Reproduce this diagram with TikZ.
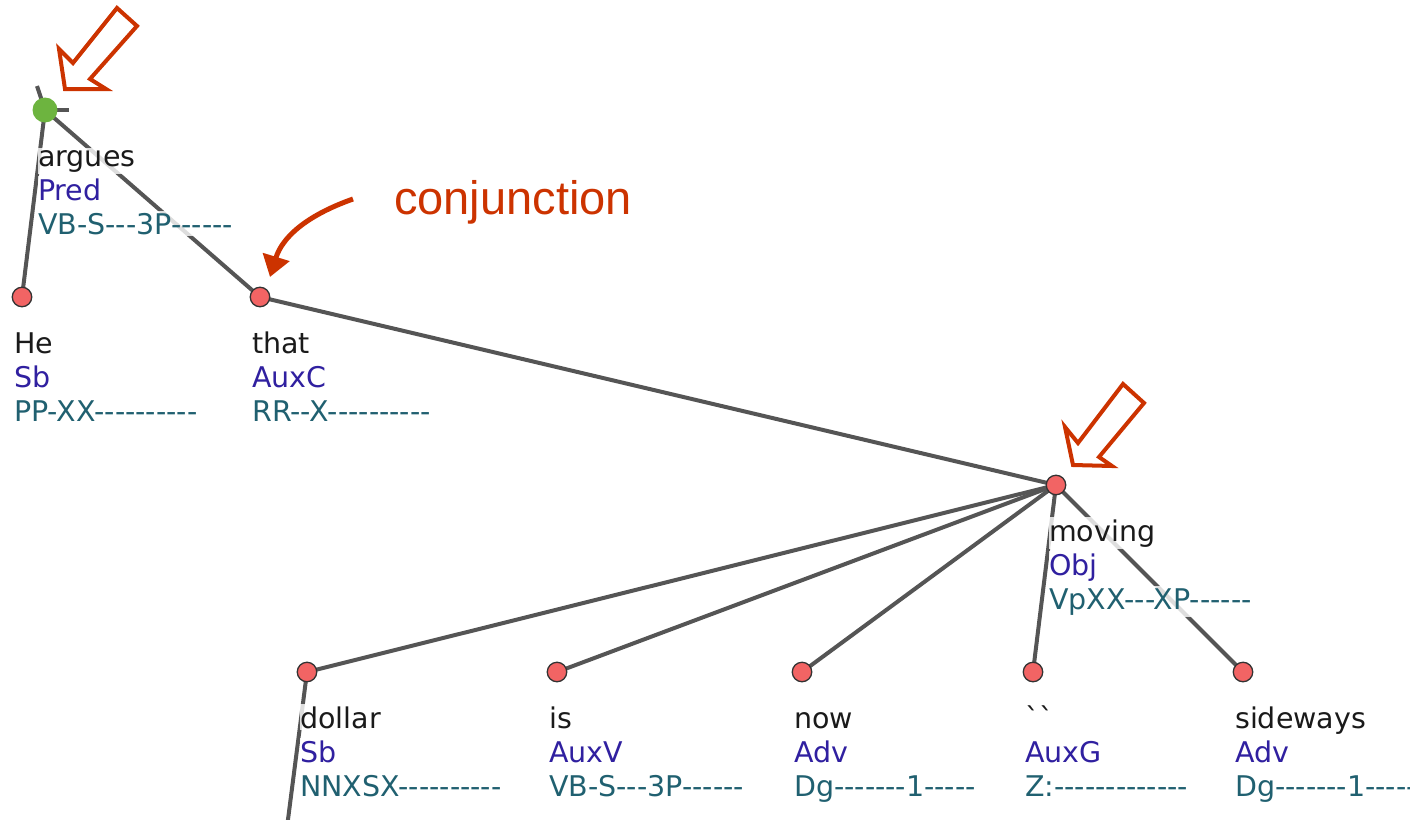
\documentclass[tikz,border=0pt]{standalone}
\usepackage{fontspec}
\newfontfamily\treefont{DejaVu Sans}
\newfontfamily\annfont{Liberation Sans}
\usetikzlibrary{arrows.meta}
\pgfdeclarelayer{bg}
\pgfsetlayers{bg,main}
\definecolor{edgegray}{HTML}{555555}
\definecolor{dotred}{HTML}{F26464}
\definecolor{dotline}{HTML}{333333}
\definecolor{rootgreen}{HTML}{6DB43F}
\definecolor{wordc}{HTML}{1A1A1A}
\definecolor{funcc}{HTML}{3020A0}
\definecolor{tagc}{HTML}{206070}
\definecolor{annred}{HTML}{CC3300}
\newcommand\tlabel[6]{%
  \node[lw] (#1-w) at (#2,#3) {#4};
  \node[lf] (#1-f) at (#2,#3+34) {#5};
  \node[lt] (#1-t) at (#2,#3+68) {#6};
}
\begin{document}
\begin{tikzpicture}[x=1pt,y=-1pt,
  dot/.style={circle, fill=dotred, draw=dotline, line width=1.3pt, minimum size=19.5pt, inner sep=0pt},
  rootdot/.style={circle, fill=rootgreen, minimum size=25pt, inner sep=0pt},
  edge/.style={draw=edgegray, line width=4pt},
  lw/.style={anchor=base west, inner xsep=0pt, inner ysep=2pt, fill=white, fill opacity=0.8, text opacity=1,
    font=\treefont\fontsize{28.5}{34}\selectfont, text=wordc},
  lf/.style={lw, text=funcc},
  lt/.style={lw, text=tagc},
  blockarrow/.style={draw=annred, line width=4pt, line join=miter},
  conjarrow/.style={draw=annred, line width=5pt, -{Triangle[length=21pt,width=27pt]}},
  conjtxt/.style={anchor=base west, inner sep=0pt, text=annred, font=\annfont\fontsize{47}{50}\selectfont}]
\useasboundingbox (0,0) rectangle (1410,819);
% tree nodes
\node[rootdot] (argues) at (45,110) {};
\node[dot] (he) at (22,297) {};
\node[dot] (that) at (260,297) {};
\node[dot] (moving) at (1056,485) {};
\node[dot] (dollar) at (307,672) {};
\node[dot] (is) at (557,672) {};
\node[dot] (now) at (802,672) {};
\node[dot] (quote) at (1033,672) {};
\node[dot] (sideways) at (1243,672) {};
\coordinate (rootstub) at (37,86);
\coordinate (rootstubr) at (69,110);
\coordinate (dollarstub) at (286,835);
% edges
\begin{pgfonlayer}{bg}
\draw[edge] (argues.center) -- (rootstub);
\draw[edge] (argues.center) -- (rootstubr);
\draw[edge] (argues.center) -- (he.center);
\draw[edge] (argues.center) -- (that.center);
\draw[edge] (that.center) -- (moving.center);
\draw[edge] (moving.center) -- (dollar.center);
\draw[edge] (moving.center) -- (is.center);
\draw[edge] (moving.center) -- (now.center);
\draw[edge] (moving.center) -- (quote.center);
\draw[edge] (moving.center) -- (sideways.center);
\draw[edge] (dollar.center) -- (dollarstub);
\end{pgfonlayer}
% labels
\tlabel{argues}{38}{166}{argues}{Pred}{VB-S---3P------}
\tlabel{he}{14}{353}{He}{Sb}{PP-XX----------}
\tlabel{that}{252}{353}{that}{AuxC}{RR--X----------}
\tlabel{moving}{1049}{541}{moving}{Obj}{VpXX---XP------}
\tlabel{dollar}{300}{728}{dollar}{Sb}{NNXSX----------}
\tlabel{is}{549}{728}{is}{AuxV}{VB-S---3P------}
\tlabel{now}{794}{728}{now}{Adv}{Dg-------1-----}
\tlabel{quote}{1025}{728}{``}{AuxG}{Z:-------------}
\tlabel{sideways}{1235}{728}{sideways}{Adv}{Dg-------1-----}
% annotations
\draw[blockarrow] (65,89) -- (59,49) -- (73,63) -- (117,8) -- (137,26) -- (90,79) -- (106,89) -- cycle;
\draw[blockarrow] (1073,465) -- (1065,427) -- (1078,443) -- (1123,384) -- (1144,403) -- (1099,457) -- (1112,466) -- cycle;
\node[conjtxt] (conj) at (394,214) {conjunction};
\coordinate (conjstart) at (353,199);
\coordinate (conjend) at (270,277);
\draw[conjarrow] (conjstart) .. controls (305,216) and (282,238) .. (conjend);
\end{tikzpicture}
\end{document}
